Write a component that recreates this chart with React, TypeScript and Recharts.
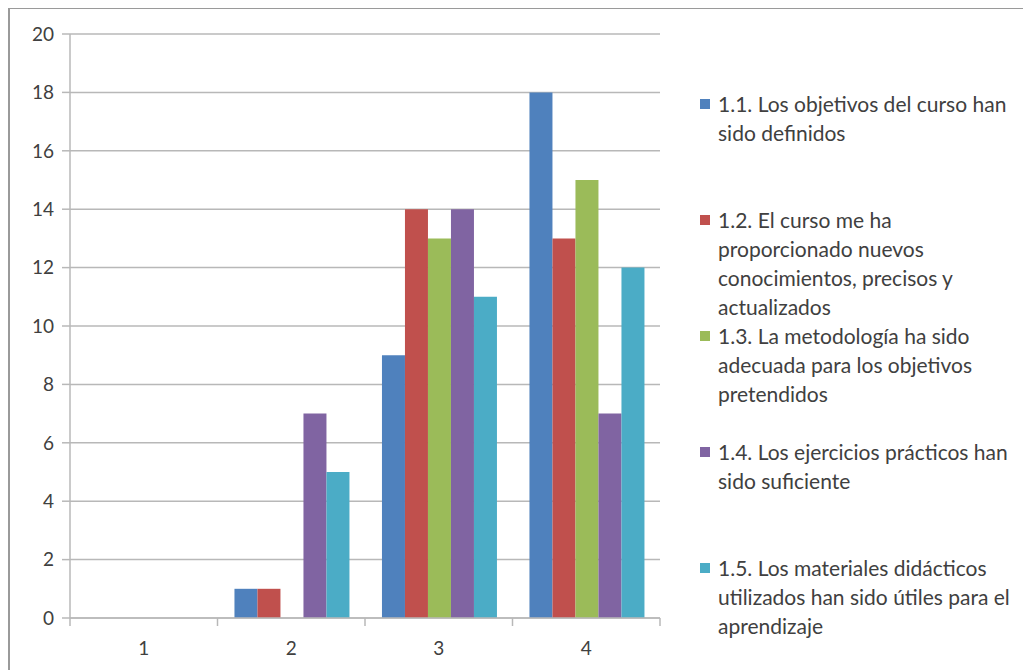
import {BarChart, Bar, XAxis, YAxis, CartesianGrid} from 'recharts';

const categories = ['1', '2', '3', '4'];

const seriesNames = [
    '1.1. Los objetivos del curso han\nsido definidos',
    '1.2. El curso me ha\nproporcionado nuevos\nconocimientos, precisos y\nactualizados',
    '1.3. La metodología ha sido\nadecuada para los objetivos\npretendidos',
    '1.4. Los ejercicios prácticos han\nsido suficiente',
    '1.5. Los materiales didácticos\nutilizados han sido útiles para el\naprendizaje',
];

const s11 = [0, 1, 9, 18];
const s12 = [0, 1, 14, 13];
const s13 = [0, 0, 13, 15];
const s14 = [0, 7, 14, 7];
const s15 = [0, 5, 11, 12];

const yTicks = [0, 2, 4, 6, 8, 10, 12, 14, 16, 18, 20];

const colors = ['#4F81BD', '#C0504D', '#9BBB59', '#8064A2', '#4BACC6'];
const keys = ['s11', 's12', 's13', 's14', 's15'];

const chartData = categories.map((c, i) => ({
    name: c,
    s11: s11[i],
    s12: s12[i],
    s13: s13[i],
    s14: s14[i],
    s15: s15[i],
}));

const axisColor = '#b8b8b8';
const textColor = '#404040';
const font = 'Lato, "Open Sans", sans-serif';

const BAND = 147.5;

const XTick = (props: any) => {
    const {x, y, payload, index} = props;
    const last = index === categories.length - 1;
    return (
        <g>
            <line x1={x - BAND / 2} y1={y - 8} x2={x - BAND / 2} y2={y} stroke={axisColor} strokeWidth={1.5} />
            {last && <line x1={x + BAND / 2} y1={y - 8} x2={x + BAND / 2} y2={y} stroke={axisColor} strokeWidth={1.5} />}
            <text x={x} y={y + 29} textAnchor="middle" fill={textColor} fontSize={19} fontFamily={font}>
                {payload.value}
            </text>
        </g>
    );
};

const LegendBox = () => (
    <div style={{position: 'absolute', left: 690, top: 80, fontFamily: font, fontSize: 21, color: textColor}}>
        {seriesNames.map((n, i) => (
            <div key={i} style={{height: 116, display: 'flex', alignItems: 'flex-start'}}>
                <div style={{width: 10, height: 10, background: colors[i], marginTop: 10, marginRight: 8, flexShrink: 0}} />
                <div style={{whiteSpace: 'pre', lineHeight: '29px'}}>{n}</div>
            </div>
        ))}
    </div>
);

export default function App() {
    return (
        <div style={{position: 'relative', width: 1018, height: 680, border: '2px solid #9a9a9a', marginTop: -1, boxSizing: 'border-box', background: '#fff'}}>
            <BarChart
                width={1010}
                height={660}
                data={chartData}
                margin={{top: 25, right: 360, bottom: 21, left: 0}}
                barGap={0}
                barCategoryGap="11.5%"
            >
                <CartesianGrid vertical={false} stroke={axisColor} strokeWidth={1.5} />
                <XAxis
                    dataKey="name"
                    tick={<XTick />}
                    tickLine={false}
                    axisLine={{stroke: axisColor, strokeWidth: 1.5}}
                    height={30}
                    interval={0}
                />
                <YAxis
                    domain={[0, 20]}
                    ticks={yTicks}
                    interval={0}
                    width={60}
                    tickSize={8}
                    tickMargin={8}
                    tick={{fill: textColor, fontSize: 19, fontFamily: font}}
                    tickLine={{stroke: axisColor, strokeWidth: 1.5}}
                    axisLine={{stroke: axisColor, strokeWidth: 1.5}}
                />
                {keys.map((k, i) => (
                    <Bar key={k} dataKey={k} name={seriesNames[i]} fill={colors[i]} isAnimationActive={false} />
                ))}
            </BarChart>
            <LegendBox />
        </div>
    );
}
